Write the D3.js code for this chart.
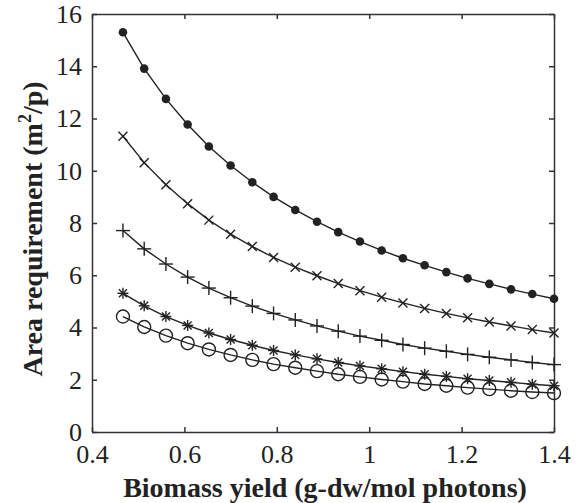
<!DOCTYPE html>
<html>
<head>
<script src="https://d3js.org/d3.v7.min.js"></script>
<style>
  body { margin: 0; background: #fff; }
</style>
</head>
<body>
<svg id="chart" width="581" height="503"></svg>
<script>
// biomass yield (g-dw/mol photons)
const xs = [0.467, 0.513, 0.560, 0.607, 0.653, 0.700, 0.747, 0.793, 0.840, 0.887, 0.933,
            0.980, 1.027, 1.073, 1.120, 1.167, 1.213, 1.260, 1.307, 1.353, 1.400];

// area requirement (m2/p), one array per curve
const dots    = [15.30, 13.91, 12.75, 11.77, 10.93, 10.20, 9.56, 9.00, 8.50, 8.05, 7.65,
                 7.29, 6.95, 6.65, 6.38, 6.12, 5.88, 5.67, 5.46, 5.28, 5.10];
const crosses = [11.32, 10.31, 9.46, 8.74, 8.11, 7.57, 7.10, 6.68, 6.31, 5.98, 5.68,
                 5.41, 5.16, 4.94, 4.73, 4.54, 4.37, 4.21, 4.06, 3.92, 3.79];
const pluses  = [7.71, 7.01, 6.43, 5.93, 5.51, 5.14, 4.82, 4.54, 4.29, 4.06, 3.86,
                 3.67, 3.51, 3.35, 3.21, 3.09, 2.97, 2.86, 2.76, 2.66, 2.58];
const stars   = [5.31, 4.83, 4.42, 4.08, 3.79, 3.54, 3.32, 3.12, 2.95, 2.80, 2.66,
                 2.53, 2.42, 2.31, 2.21, 2.13, 2.04, 1.97, 1.90, 1.83, 1.77];
const circles = [4.42, 4.02, 3.69, 3.40, 3.16, 2.95, 2.76, 2.60, 2.46, 2.33, 2.21,
                 2.11, 2.01, 1.93, 1.84, 1.77, 1.70, 1.64, 1.58, 1.53, 1.49];

const xTicks = [0.4, 0.6, 0.8, 1, 1.2, 1.4];
const yTicks = [0, 2, 4, 6, 8, 10, 12, 14, 16];

const series = [
  { name: "dot", values: dots },
  { name: "cross", values: crosses },
  { name: "plus", values: pluses },
  { name: "star", values: stars },
  { name: "circle", values: circles }
];

const margin = { left: 92, right: 27, top: 14, bottom: 71 };
const W = 581, H = 503;
const FONT = "'Liberation Serif', 'Times New Roman', serif";
const ink = "#222";
const svg = d3.select("#chart");

const x = d3.scaleLinear().domain([0.4, 1.4]).range([margin.left, W - margin.right]);
const y = d3.scaleLinear().domain([0, 16]).range([H - margin.bottom, margin.top]);

// axes with inward ticks on all four sides
const fmt = d => String(d);
svg.append("g").attr("transform", `translate(0,${y(0)})`)
  .call(d3.axisBottom(x).tickValues(xTicks).tickFormat(fmt).tickSizeInner(-5).tickSizeOuter(0).tickPadding(13));
svg.append("g").attr("transform", `translate(0,${y(16)})`)
  .call(d3.axisTop(x).tickValues(xTicks).tickFormat("").tickSizeInner(-5).tickSizeOuter(0));
svg.append("g").attr("transform", `translate(${x(0.4)},0)`)
  .call(d3.axisLeft(y).tickValues(yTicks).tickFormat(fmt).tickSizeInner(-5).tickSizeOuter(0).tickPadding(10));
svg.append("g").attr("transform", `translate(${x(1.4)},0)`)
  .call(d3.axisRight(y).tickValues(yTicks).tickFormat("").tickSizeInner(-5).tickSizeOuter(0));

svg.selectAll("g").attr("font-family", FONT);
svg.selectAll(".domain, .tick line").attr("stroke", "#333").attr("stroke-width", 1.5);
svg.selectAll(".tick text").attr("fill", ink).attr("font-family", FONT).attr("font-size", 26);

// curves
const line = d3.line().x((d, i) => x(xs[i])).y(d => y(d));
const marks = svg.append("g");

series.forEach(s => {
  marks.append("path").datum(s.values)
    .attr("d", line).attr("fill", "none").attr("stroke", ink).attr("stroke-width", 1.4);

  const g = marks.append("g");
  s.values.forEach((v, i) => {
    const px = x(xs[i]), py = y(v);
    if (s.name === "dot") {
      g.append("circle").attr("cx", px).attr("cy", py).attr("r", 4.3).attr("fill", ink);
    } else if (s.name === "circle") {
      g.append("circle").attr("cx", px).attr("cy", py).attr("r", 6.5)
        .attr("fill", "none").attr("stroke", ink).attr("stroke-width", 1.4);
    } else {
      let segs = [];
      if (s.name === "plus") segs = [[-7, 0, 7, 0], [0, -7, 0, 7]];
      if (s.name === "cross") segs = [[-4.5, -4.5, 4.5, 4.5], [-4.5, 4.5, 4.5, -4.5]];
      if (s.name === "star") segs = [[-5.5, 0, 5.5, 0], [0, -5.5, 0, 5.5],
                                     [-4, -4, 4, 4], [-4, 4, 4, -4]];
      segs.forEach(q => g.append("line")
        .attr("x1", px + q[0]).attr("y1", py + q[1]).attr("x2", px + q[2]).attr("y2", py + q[3])
        .attr("stroke", ink).attr("stroke-width", 1.4));
    }
  });
});

// axis titles
svg.append("text")
  .attr("x", 325).attr("y", 497)
  .attr("text-anchor", "middle").attr("font-family", FONT)
  .attr("font-size", 28).attr("font-weight", "bold").attr("fill", ink)
  .text("Biomass yield (g-dw/mol photons)");

const yt = svg.append("text")
  .attr("transform", `translate(42,229) rotate(-90)`)
  .attr("text-anchor", "middle").attr("font-family", FONT)
  .attr("font-size", 28).attr("font-weight", "bold").attr("fill", ink);
yt.append("tspan").text("Area requirement (m");
yt.append("tspan").attr("dy", -11).attr("font-size", 18).text("2");
yt.append("tspan").attr("dy", 11).text("/p)");
</script>
</body>
</html>
